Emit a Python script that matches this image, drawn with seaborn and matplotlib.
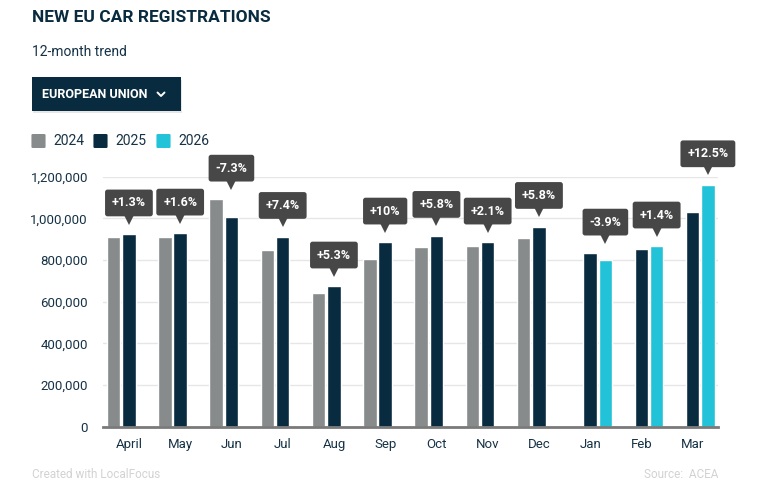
import numpy as np
import pandas as pd
import matplotlib
matplotlib.use("Agg")
import matplotlib.pyplot as plt
import matplotlib.transforms as mtransforms
from matplotlib.patches import FancyBboxPatch
import seaborn as sns

# ─── Data ──────────────────────────────────────────────────
months = ["April", "May", "Jun", "Jul", "Aug", "Sep", "Oct", "Nov", "Dec",
          "Jan", "Feb", "Mar"]
years = ["2024", "2025", "2026"]
prev_year = [912000, 912000, 1091000, 848000, 643000, 806000, 864000, 869000,
             907000, 832000, 854000, 1029000]
curr_year = [924000, 928000, 1008000, 912000, 674000, 885000, 917000, 885000,
             960000, 799000, 866000, 1160000]
prev_label = ["2024"] * 9 + ["2025"] * 3
curr_label = ["2025"] * 9 + ["2026"] * 3
changes = ["+1.3%", "+1.6%", "-7.3%", "+7.4%", "+5.3%", "+10%", "+5.8%",
           "+2.1%", "+5.8%", "-3.9%", "+1.4%", "+12.5%"]

# ─── Style ────────────────────────────────────────────────
GRAY = "#878b8c"
NAVY = "#082b40"
CYAN = "#22c3d8"
TEXT = "#163246"
BOX = "#474747"
palette = {"2024": GRAY, "2025": NAVY, "2026": CYAN}

sns.set_theme(style="white")
plt.rcParams["font.family"] = ["Roboto", "DejaVu Sans"]

W, H = 779, 497
fig = plt.figure(figsize=(W / 100, H / 100), dpi=100)


def fx(x):
    return x / W


def fy(y):
    return 1 - y / H


ax = fig.add_axes([fx(103.3), fy(426.7), fx(718.3) - fx(103.3),
                   fy(176.7) - fy(426.7)])

df = pd.DataFrame({
    "month": months + months,
    "year": prev_label + curr_label,
    "value": prev_year + curr_year,
})

BAR_W = 0.89
sns.barplot(data=df, x="month", y="value", hue="year", order=months,
            hue_order=years, palette=palette, width=BAR_W, gap=0.11,
            saturation=1, legend=False, ax=ax, errorbar=None)

ax.set_xlim(-0.5, len(months) - 0.5)
ax.set_ylim(0, 1200000)
ax.set_yticks(np.arange(0, 1200001, 200000))
ax.set_yticklabels([f"{v:,.0f}" for v in np.arange(0, 1200001, 200000)])
ax.yaxis.grid(True, color="#e6e6e6", linewidth=1)
ax.set_axisbelow(True)
for side in ["left", "right", "top"]:
    ax.spines[side].set_visible(False)
ax.spines["bottom"].set_color("#7a7a7a")
ax.spines["bottom"].set_linewidth(2)
ax.tick_params(axis="y", length=0, pad=11, labelsize=9.5, labelcolor=TEXT)
ax.tick_params(axis="x", length=0, pad=8, labelsize=9.5, labelcolor=TEXT)
ax.set_xlabel("")
ax.set_ylabel("")

# ── Change callouts above the latest-year bar ─────────────
offsets = {y: (k - 1) * BAR_W / 3 for k, y in enumerate(years)}
tri = mtransforms.offset_copy(ax.transData, fig=fig, x=0, y=10.5, units="points")
for i, (lbl, top_a, top_b, yr) in enumerate(zip(changes, prev_year, curr_year,
                                                  curr_label)):
    xc = i + offsets[yr]
    top = max(top_a, top_b)
    ax.annotate(lbl, xy=(xc, top), xytext=(0, 22.5), textcoords="offset points",
                ha="center", va="center", fontsize=9, fontweight="bold",
                color="white", annotation_clip=False,
                bbox=dict(boxstyle="round,pad=0.55,rounding_size=0.2",
                          fc=BOX, ec="none"))
    ax.plot([xc], [top], marker="v", markersize=6.5, color=BOX,
            transform=tri, clip_on=False, markeredgewidth=0)

# ── Header ────────────────────────────────────────────────
fig.text(fx(32), fy(18), "NEW EU CAR REGISTRATIONS", fontsize=12.5,
         fontweight="bold", color=NAVY, va="center", ha="left")
fig.text(fx(32), fy(52), "12-month trend", fontsize=10, color=TEXT,
         va="center", ha="left")

# dropdown button
shadow = FancyBboxPatch((fx(33), fy(112.5)), fx(181) - fx(32), fy(78) - fy(111),
                        boxstyle="square,pad=0", transform=fig.transFigure,
                        fc="#d8d8d8", ec="none", alpha=0.6)
fig.patches.append(shadow)
btn = FancyBboxPatch((fx(32), fy(110.7)), fx(181) - fx(32), fy(77.3) - fy(110.7),
                     boxstyle="square,pad=0", transform=fig.transFigure,
                     fc=NAVY, ec="none")
fig.patches.append(btn)
fig.text(fx(42), fy(94), "EUROPEAN UNION", fontsize=9, fontweight="bold",
         color="white", va="center", ha="left")
fig.lines.append(plt.Line2D([fx(157.5), fx(161), fx(164.5)],
                            [fy(92.5), fy(96), fy(92.5)],
                            transform=fig.transFigure, color="white",
                            linewidth=1.4))

# legend
leg_x = [32, 94, 157]
for x0, yr in zip(leg_x, years):
    sq = FancyBboxPatch((fx(x0 + 1), fy(147)), fx(11) - fx(0), fy(135) - fy(147),
                        boxstyle="round,pad=0.002", transform=fig.transFigure,
                        fc=palette[yr], ec="none")
    fig.patches.append(sq)
    fig.text(fx(x0 + 21), fy(141), yr, fontsize=10, color=TEXT,
             va="center", ha="left")

# footer
fig.text(fx(32), fy(475), "Created with LocalFocus", fontsize=8.5,
         color="#d2d2d2", va="center", ha="left")
fig.text(fx(718), fy(475), "Source:  ACEA", fontsize=8.5, color="#d2d2d2",
         va="center", ha="right")

fig.savefig("out.png", dpi=100, facecolor="white")
